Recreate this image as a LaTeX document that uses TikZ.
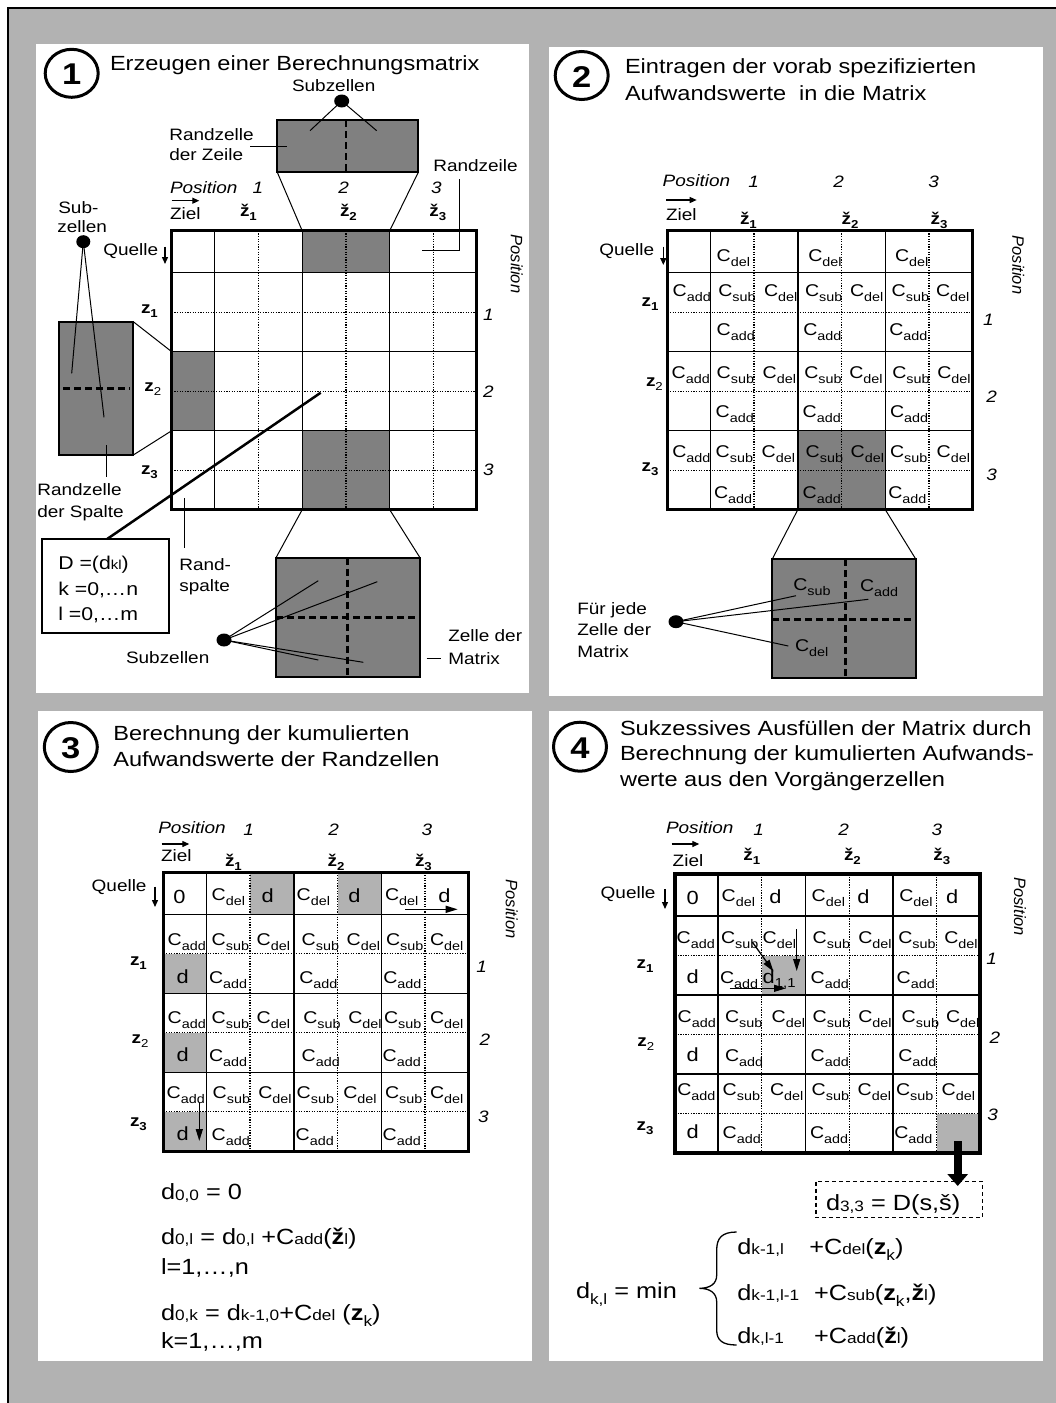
\documentclass[tikz,border=0pt]{standalone}
\usepackage{fontspec}
\setmainfont{Liberation Sans}[FakeStretch=1.15]
\newfontfamily\plainf{Liberation Sans}
\usetikzlibrary{arrows.meta}
\definecolor{bggray}{RGB}{178,178,178}
\definecolor{dkgray}{RGB}{128,128,128}
\newcommand\fsz[1]{\fontsize{#1}{#1}\selectfont}
\newcommand\cc[1]{C\raisebox{-5pt}{\fsz{12.5}#1}}
\newcommand\sm[1]{{\fsz{15}#1}}
\newcommand\lo[1]{\raisebox{-6pt}{\fsz{15}#1}}
\newcommand\zh[1]{\textbf{ž}\raisebox{-4pt}{\fsz{11.5}\bfseries #1}}
\newcommand\zl[1]{\textbf{z}\raisebox{-4pt}{\fsz{11.5}#1}}
\newcommand\mgrid[2]{%
 \begin{scope}[shift={(#1,#2)}]
 \foreach \gx in {86.75,174.25,261.75} {\draw[dotl] (\gx,0) -- (\gx,279);}
 \foreach \gy in {81.5,160.5,239.5} {\draw[dotl] (0,\gy) -- (305,\gy);}
 \foreach \gx in {43,130.5,218} {\draw[soll] (\gx,0) -- (\gx,279);}
 \foreach \gy in {42,121,200} {\draw[soll] (0,\gy) -- (305,\gy);}
 \draw[bord] (0,0) rectangle (305,279);
 \end{scope}}
\newcommand\crow[3]{\foreach \x/\t [count=\i] in {#3} {\node[cell] (#1\i) at (\x,#2) {\cc{\t}};}}
\begin{document}
\begin{tikzpicture}[x=1pt,y=-1pt,
  txt/.style={anchor=base west,inner sep=0pt,outer sep=0pt},
  ctr/.style={anchor=center,inner sep=0pt,outer sep=0pt},
  title/.style={txt,font=\fsz{20.5}},
  lbl/.style={txt,font=\fsz{16.5}},
  ital/.style={txt,font=\fsz{16.5}\itshape},
  rnum/.style={ctr,font=\fsz{16.5}\itshape},
  rpos/.style={ctr,font=\plainf\fsz{16.5}\itshape,rotate=-90},
  cell/.style={txt,font=\fsz{17}},
  dd/.style={txt,font=\fsz{19}},
  frm/.style={txt,font=\fsz{22}},
  dtxt/.style={txt,font=\fsz{18.5}},
  soll/.style={line width=1.4pt},
  dotl/.style={line width=1.3pt,dash pattern=on 1.3pt off 1.3pt},
  bord/.style={line width=3.5pt},
  dsh/.style={line width=2.5pt,dash pattern=on 7pt off 4pt},
  thinl/.style={line width=1pt},
  arr/.style={line width=1.3pt,-{Triangle[width=6pt,length=7pt]}},
  arrb/.style={line width=1.3pt,-{Triangle[width=7pt,length=12pt]}},
  numc/.style={line width=3pt},
  callout/.style={line width=2pt,fill=dkgray}]
\useasboundingbox (0,0) rectangle (1056,1403);
\fill[white] (0,0) rectangle (1056,1403);
\fill[bggray] (8,8) rectangle (1056,1403);
\draw[line width=2pt] (1056,8) -- (8,8) -- (8,1403);

% ================= PANEL 1 =================
\fill[white] (36,44) rectangle (529,693);
\draw[numc] (71.7,73.3) ellipse [x radius=26.5, y radius=24];
\node[ctr,font=\fsz{30}\bfseries] (n1) at (71.7,74.5) {1};
\node[title] (t1) at (110,70) {Erzeugen einer Berechnungsmatrix};
% top callout
\node[lbl] (sz1) at (292,91.7) {Subzellen};
\draw[callout] (277.3,120) rectangle (418.3,172.3);
\coordinate (rtl) at (277.3,172.3); \coordinate (rtr) at (418.3,172.3);
\draw[dsh] (346,120) -- (346,172.3);
\coordinate (dot1) at (341.7,101);
\fill (dot1) ellipse [x radius=7.5, y radius=6.5];
\draw[thinl] (dot1) -- (310,130.7);
\draw[thinl] (dot1) -- (376.7,130.7);
\node[lbl] (rz1) at (169.3,140.7) {Randzelle};
\node[lbl] (rz2) at (169.3,160.7) {der Zeile};
\draw[thinl] (250,146.7) -- (286.7,146.7);
\node[lbl] (rzl) at (433.3,171.7) {Randzeile};
\draw[thinl] (459,179.3) -- (459,250) -- (421.7,250);
% headers
\node[ital] (p1pos) at (170,193.3) {Position};
\node[ital] (p1n1) at (252.7,193.3) {1};
\node[ital] (p1n2) at (338.3,193.3) {2};
\node[ital] (p1n3) at (431,193.3) {3};
\draw[arr] (171.7,200.7) -- (199.3,200.7);
\node[lbl] (p1ziel) at (170,219.3) {Ziel};
\node[lbl] (p1h1) at (240,216.7) {\zh{1}};
\node[lbl] (p1h2) at (340,216.7) {\zh{2}};
\node[lbl] (p1h3) at (429.3,216.7) {\zh{3}};
\node[lbl] (p1q) at (103.3,255) {Quelle};
\draw[arr] (165,246.7) -- (165,264);
\node[lbl] (p1z1) at (141,313.3) {\zl{\bfseries 1}};
\node[lbl] (p1z2) at (144.3,391.7) {\zl{2}};
\node[lbl] (p1z3) at (141,474) {\zl{\bfseries 3}};
\node[rnum] (p1r1) at (488.3,315) {1};
\node[rnum] (p1r2) at (488.3,391.7) {2};
\node[rnum] (p1r3) at (488.3,470) {3};
\node[rpos] (p1rp) at (516.7,264) {Position};
% matrix
\fill[dkgray] (302.2,230.7) rectangle (389.7,272.7);
\fill[dkgray] (171.7,351.7) rectangle (214.7,430.7);
\fill[dkgray] (302.2,430.7) rectangle (389.7,509.7);
\mgrid{171.7}{230.7}
\draw[thinl] (rtl) -- (302.2,230.7);
\draw[thinl] (rtr) -- (389.7,230.7);
% left callout
\node[lbl] (sub1) at (58.3,213.3) {Sub-};
\node[lbl] (sub2) at (57.3,232.7) {zellen};
\draw[callout] (59.3,321.7) rectangle (133.3,455);
\draw[dsh] (63,388.3) -- (130,388.3);
\coordinate (dot2) at (83.3,241.7);
\fill (dot2) ellipse [x radius=7, y radius=6.5];
\draw[thinl] (dot2) -- (71.7,373.3);
\draw[thinl] (dot2) -- (104,417.3);
\draw[thinl] (133.3,321.7) -- (171.7,351.7);
\draw[thinl] (133.3,455) -- (171.7,430.7);
\node[lbl] (rs1) at (37.3,495.7) {Randzelle};
\node[lbl] (rs2) at (37.3,517.3) {der Spalte};
\draw[thinl] (106,445) -- (106,476.7);
% D box
\draw[line width=2.5pt] (320.7,392.7) -- (106.7,539.3);
\draw[line width=2pt,fill=white] (41.7,539.3) rectangle (169.3,633.3);
\node[dtxt] (D1) at (58.3,569.3) {D =(d{\fsz{13}kl})};
\node[dtxt] (D2) at (58.3,595) {k =0,…n};
\node[dtxt] (D3) at (58.3,620.7) {l =0,…m};
\node[lbl] (rsp1) at (179.3,570.7) {Rand-};
\node[lbl] (rsp2) at (179.3,591.7) {spalte};
\draw[thinl] (184.3,498.3) -- (184.3,548.3);
% bottom callout
\draw[callout] (276,557.7) rectangle (420,676.7);
\draw[dsh] (347.3,557.7) -- (347.3,676.7);
\draw[dsh] (276,617.3) -- (420,617.3);
\draw[thinl] (302.2,509.7) -- (276,557.7);
\draw[thinl] (389.7,509.7) -- (420,557.7);
\coordinate (dot3) at (224,640);
\fill (dot3) ellipse [x radius=7.5, y radius=6.5];
\draw[thinl] (dot3) -- (318.3,580.7);
\draw[thinl] (dot3) -- (377.3,581.7);
\draw[thinl] (dot3) -- (318.3,660);
\draw[thinl] (dot3) -- (363.3,662.3);
\node[lbl] (sz3) at (126,663.3) {Subzellen};
\node[lbl] (zm1) at (448.3,641.7) {Zelle der};
\node[lbl] (zm2) at (448.3,664.3) {Matrix};
\draw[thinl] (426.7,658.3) -- (440.7,658.3);

% ================= PANEL 2 =================
\fill[white] (549,46.5) rectangle (1043,695.5);
\draw[numc] (581.7,75.5) ellipse [x radius=26.5, y radius=24];
\node[ctr,font=\fsz{30}\bfseries] (n2) at (581.7,76.7) {2};
\node[title] (t2a) at (625,73.3) {Eintragen der vorab spezifizierten};
\node[title] (t2b) at (625,100) {Aufwandswerte\ \ in die Matrix};
\node[ital] (p2pos) at (662.7,186.7) {Position};
\node[ital] (p2n1) at (748.3,187.7) {1};
\node[ital] (p2n2) at (833.3,187.7) {2};
\node[ital] (p2n3) at (928.3,187.7) {3};
\draw[arr] (666,200) -- (696.7,200);
\node[lbl] (p2ziel) at (666,220) {Ziel};
\node[lbl] (p2h1) at (740,224) {\zh{1}};
\node[lbl] (p2h2) at (841.7,224) {\zh{2}};
\node[lbl] (p2h3) at (930.7,224) {\zh{3}};
\node[lbl] (p2q) at (599.3,255) {Quelle};
\draw[arr] (663.3,246.7) -- (663.3,265);
\node[lbl] (p2z1) at (641.7,306.7) {\zl{\bfseries 1}};
\node[lbl] (p2z2) at (646,386.7) {\zl{2}};
\node[lbl] (p2z3) at (641.7,471.7) {\zl{\bfseries 3}};
\node[rnum] (p2r1) at (988.3,320) {1};
\node[rnum] (p2r2) at (991.7,396.7) {2};
\node[rnum] (p2r3) at (991.7,475) {3};
\node[rpos] (p2rp) at (1018.3,265) {Position};
\fill[dkgray] (797.8,430.7) rectangle (885.3,509.7);
\mgrid{667.3}{230.7}
\crow{p2a}{261.7}{716.7/del,808.3/del,895/del}
\crow{p2b}{296.7}{672.7/add,718.3/sub,764/del,805/sub,850/del,891.7/sub,936/del}
\crow{p2c}{335}{716.7/add,803.3/add,889.3/add}
\crow{p2d}{378.3}{671.7/add,716.7/sub,762.7/del,804.3/sub,849.3/del,892.3/sub,937.3/del}
\crow{p2e}{417.3}{715.7/add,802.7/add,890/add}
\crow{p2f}{457.7}{672.3/add,715.7/sub,761.7/del,805.7/sub,850.7/del,890/sub,936.7/del}
\crow{p2g}{498.3}{714/add,802.7/add,888.3/add}
% callout
\draw[callout] (772.3,559) rectangle (915.7,677.7);
\draw[dsh] (845.7,559) -- (845.7,677.7);
\draw[dsh] (772.3,619.3) -- (915.7,619.3);
\draw[thinl] (797.8,509.7) -- (772.3,559);
\draw[thinl] (885.3,509.7) -- (915.7,559);
\node[cell] (k1) at (793.3,590) {\cc{sub}};
\node[cell] (k2) at (860,591.7) {\cc{add}};
\node[cell] (k3) at (795,651.7) {\cc{del}};
\coordinate (dot4) at (676,621.7);
\fill (dot4) ellipse [x radius=7.5, y radius=6.5];
\draw[thinl] (dot4) -- (796,595.7);
\draw[thinl] (dot4) -- (868.3,599.3);
\draw[thinl] (dot4) -- (788.3,646);
\node[lbl] (fj1) at (577.3,614.3) {Für jede};
\node[lbl] (fj2) at (577.3,635.7) {Zelle der};
\node[lbl] (fj3) at (577.3,657.7) {Matrix};

% ================= PANEL 3 =================
\fill[white] (38,711) rectangle (532,1361);
\draw[numc] (70.8,747) ellipse [x radius=26.5, y radius=24.5];
\node[ctr,font=\fsz{30}\bfseries] (n3) at (70.8,748.2) {3};
\node[title] (t3a) at (113.3,740) {Berechnung der kumulierten};
\node[title] (t3b) at (113.3,766.7) {Aufwandswerte der Randzellen};
\node[ital] (p3pos) at (158.3,833.3) {Position};
\node[ital] (p3n1) at (243.3,835) {1};
\node[ital] (p3n2) at (328.3,835) {2};
\node[ital] (p3n3) at (421.7,835) {3};
\draw[arr] (161.7,844) -- (189.3,844);
\node[lbl] (p3ziel) at (161,861.7) {Ziel};
\node[lbl] (p3h1) at (225,866.7) {\zh{1}};
\node[lbl] (p3h2) at (327.7,866.7) {\zh{2}};
\node[lbl] (p3h3) at (415,866.7) {\zh{3}};
\node[lbl] (p3q) at (91.7,891.7) {Quelle};
\draw[arr] (155,886.7) -- (155,907);
\node[lbl] (p3z1) at (130,965) {\zl{\bfseries 1}};
\node[lbl] (p3z2) at (131.7,1043.3) {\zl{2}};
\node[lbl] (p3z3) at (130,1126.7) {\zl{\bfseries 3}};
\node[rnum] (p3r1) at (481.7,966.7) {1};
\node[rnum] (p3r2) at (485,1040) {2};
\node[rnum] (p3r3) at (483.3,1116.7) {3};
\node[rpos] (p3rp) at (511.7,909) {Position};
\fill[bggray] (250.05,872.3) rectangle (293.8,914.3);
\fill[bggray] (337.55,872.3) rectangle (381.3,914.3);
\fill[bggray] (163.3,953.8) rectangle (206.3,993.3);
\fill[bggray] (163.3,1032.8) rectangle (206.3,1072.3);
\fill[bggray] (163.3,1111.8) rectangle (206.3,1151.3);
\mgrid{163.3}{872.3}
\node[dd] (p3o) at (173.3,903.3) {0};
\node[dd] (p3t1) at (261.7,902.7) {d};
\node[dd] (p3t2) at (348.3,902.7) {d};
\node[dd] (p3t3) at (438.3,902.7) {d};
\crow{p3a}{900}{211.7/del,296.7/del,385/del}
\crow{p3b}{945}{167.7/add,211.7/sub,256.7/del,301.7/sub,346.7/del,386/sub,430/del}
\node[dd] (p3c0) at (176.7,983.3) {d};
\crow{p3c}{983.3}{209/add,299.3/add,383.3/add}
\crow{p3d}{1023.3}{167.7/add,211.7/sub,256.7/del,303.3/sub,348.3/del,384/sub,430/del}
\node[dd] (p3e0) at (176.7,1061.7) {d};
\crow{p3e}{1061.7}{209/add,301.7/add,382.7/add}
\crow{p3f}{1098.3}{166.7/add,212.7/sub,258.3/del,296.7/sub,343.3/del,385/sub,430/del}
\node[dd] (p3g0) at (176.7,1140) {d};
\crow{p3g}{1140}{211.7/add,295.7/add,382.7/add}
\draw[arrb] (405,909.3) -- (457.7,909.3);
\draw[arrb] (199.3,1103) -- (199.3,1141);
\node[frm] (f1) at (161,1199.3) {d\raisebox{-1pt}{\sm{0,0}} = 0};
\node[frm] (f2) at (161,1244) {d\sm{0,l} = d\sm{0,l} +C\sm{add}(\textbf{ž}\sm{l})};
\node[frm] (f3) at (161,1274.3) {l=1,…,n};
\node[frm] (f4) at (161,1320) {d\sm{0,k} = d\sm{k-1,0}+C\sm{del} (\textbf{z}\lo{k})};
\node[frm] (f5) at (161,1348.3) {k=1,…,m};

% ================= PANEL 4 =================
\fill[white] (549,711) rectangle (1043,1361);
\draw[numc] (580,746.7) ellipse [x radius=26.5, y radius=24.5];
\node[ctr,font=\fsz{30}\bfseries] (n4) at (580,747.9) {4};
\node[title] (t4a) at (620,735) {Sukzessives Ausfüllen der Matrix durch};
\node[title] (t4b) at (620,760.7) {Berechnung der kumulierten Aufwands-};
\node[title] (t4c) at (620,786) {werte aus den Vorgängerzellen};
\node[ital] (p4pos) at (666,833.3) {Position};
\node[ital] (p4n1) at (753.3,835) {1};
\node[ital] (p4n2) at (838.3,835) {2};
\node[ital] (p4n3) at (931.7,835) {3};
\draw[arr] (671.7,844) -- (699.3,844);
\node[lbl] (p4ziel) at (672.7,866.7) {Ziel};
\node[lbl] (p4h1) at (743.3,860) {\zh{1}};
\node[lbl] (p4h2) at (844,860) {\zh{2}};
\node[lbl] (p4h3) at (933.3,860) {\zh{3}};
\node[lbl] (p4q) at (600.7,898.3) {Quelle};
\draw[arr] (665,889) -- (665,909);
\node[lbl] (p4z1) at (636.7,968.3) {\zl{\bfseries 1}};
\node[lbl] (p4z2) at (637.3,1046.7) {\zl{2}};
\node[lbl] (p4z3) at (636.7,1130) {\zl{\bfseries 3}};
\node[rnum] (p4r1) at (991.7,959.3) {1};
\node[rnum] (p4r2) at (995,1037.3) {2};
\node[rnum] (p4r3) at (992.7,1115) {3};
\node[rpos] (p4rp) at (1020,906.7) {Position};
\fill[bggray] (761.75,955.5) rectangle (805.5,995);
\fill[bggray] (936.75,1113.5) rectangle (980,1153);
\mgrid{675}{874}
\node[dd] (p4o) at (686.7,904) {0};
\node[dd] (p4t1) at (769.3,903) {d};
\node[dd] (p4t2) at (857.3,903) {d};
\node[dd] (p4t3) at (946,903) {d};
\crow{p4a}{901.7}{721.7/del,811.7/del,899.3/del}
\crow{p4b}{943.3}{676.7/add,721/sub,762.7/del,812.7/sub,858.3/del,898.3/sub,944.3/del}
\node[dd] (p4c0) at (686.7,983.3) {d};
\node[dd] (p4c9) at (762.7,983.3) {d\raisebox{-4pt}{\fsz{13}1,1}};
\crow{p4c}{983.3}{720/add,810.7/add,896.7/add}
\crow{p4d}{1022.7}{677.7/add,725/sub,771.7/del,812.7/sub,858.3/del,901.7/sub,946/del}
\node[dd] (p4e0) at (686.7,1061) {d};
\crow{p4e}{1061}{725/add,810.7/add,898.3/add}
\crow{p4f}{1095}{677.3/add,722.7/sub,770/del,811.7/sub,857.7/del,896/sub,941.7/del}
\node[dd] (p4g0) at (686.7,1138.3) {d};
\crow{p4g}{1138.3}{722.7/add,810/add,894.3/add}
\draw[arrb] (752.3,942) -- (773.5,971.5);
\draw[arrb] (796.7,929) -- (796.7,971);
\draw[arrb] (729.7,988.3) -- (786,988.3);
% result
\draw[line width=1.5pt,dash pattern=on 4pt off 3pt] (816,1181.7) rectangle (982.7,1217.3);
\node[frm] (res) at (826,1210) {d\raisebox{-1.5pt}{\sm{3,3}} = D(s,š)};
\draw[line width=8pt,-{Triangle[width=20pt,length=12pt]}] (957.7,1141) -- (957.7,1186);
% formula
\node[frm] (g0) at (576,1298.3) {d\lo{k,l} = min};
\draw[line width=1.3pt] (736.7,1232) .. controls (722,1232) and (716.7,1238) .. (716.7,1250) -- (716.7,1275) .. controls (716.7,1284) and (710,1288.3) .. (699.3,1288.3) .. controls (710,1288.3) and (716.7,1293) .. (716.7,1302) -- (716.7,1330) .. controls (716.7,1340) and (722,1345) .. (736.7,1345);
\node[frm] (g1a) at (737.3,1254) {d\sm{k-1,l}};
\node[frm] (g1b) at (809.3,1254) {+C\sm{del}(\textbf{z}\lo{k})};
\node[frm] (g2a) at (737.3,1300) {d\sm{k-1,l-1}};
\node[frm] (g2b) at (814,1300) {+C\sm{sub}(\textbf{z}\lo{k},\textbf{ž}\sm{l})};
\node[frm] (g3a) at (737.3,1343.3) {d\sm{k,l-1}};
\node[frm] (g3b) at (814,1343.3) {+C\sm{add}(\textbf{ž}\sm{l})};
\end{tikzpicture}
\end{document}
